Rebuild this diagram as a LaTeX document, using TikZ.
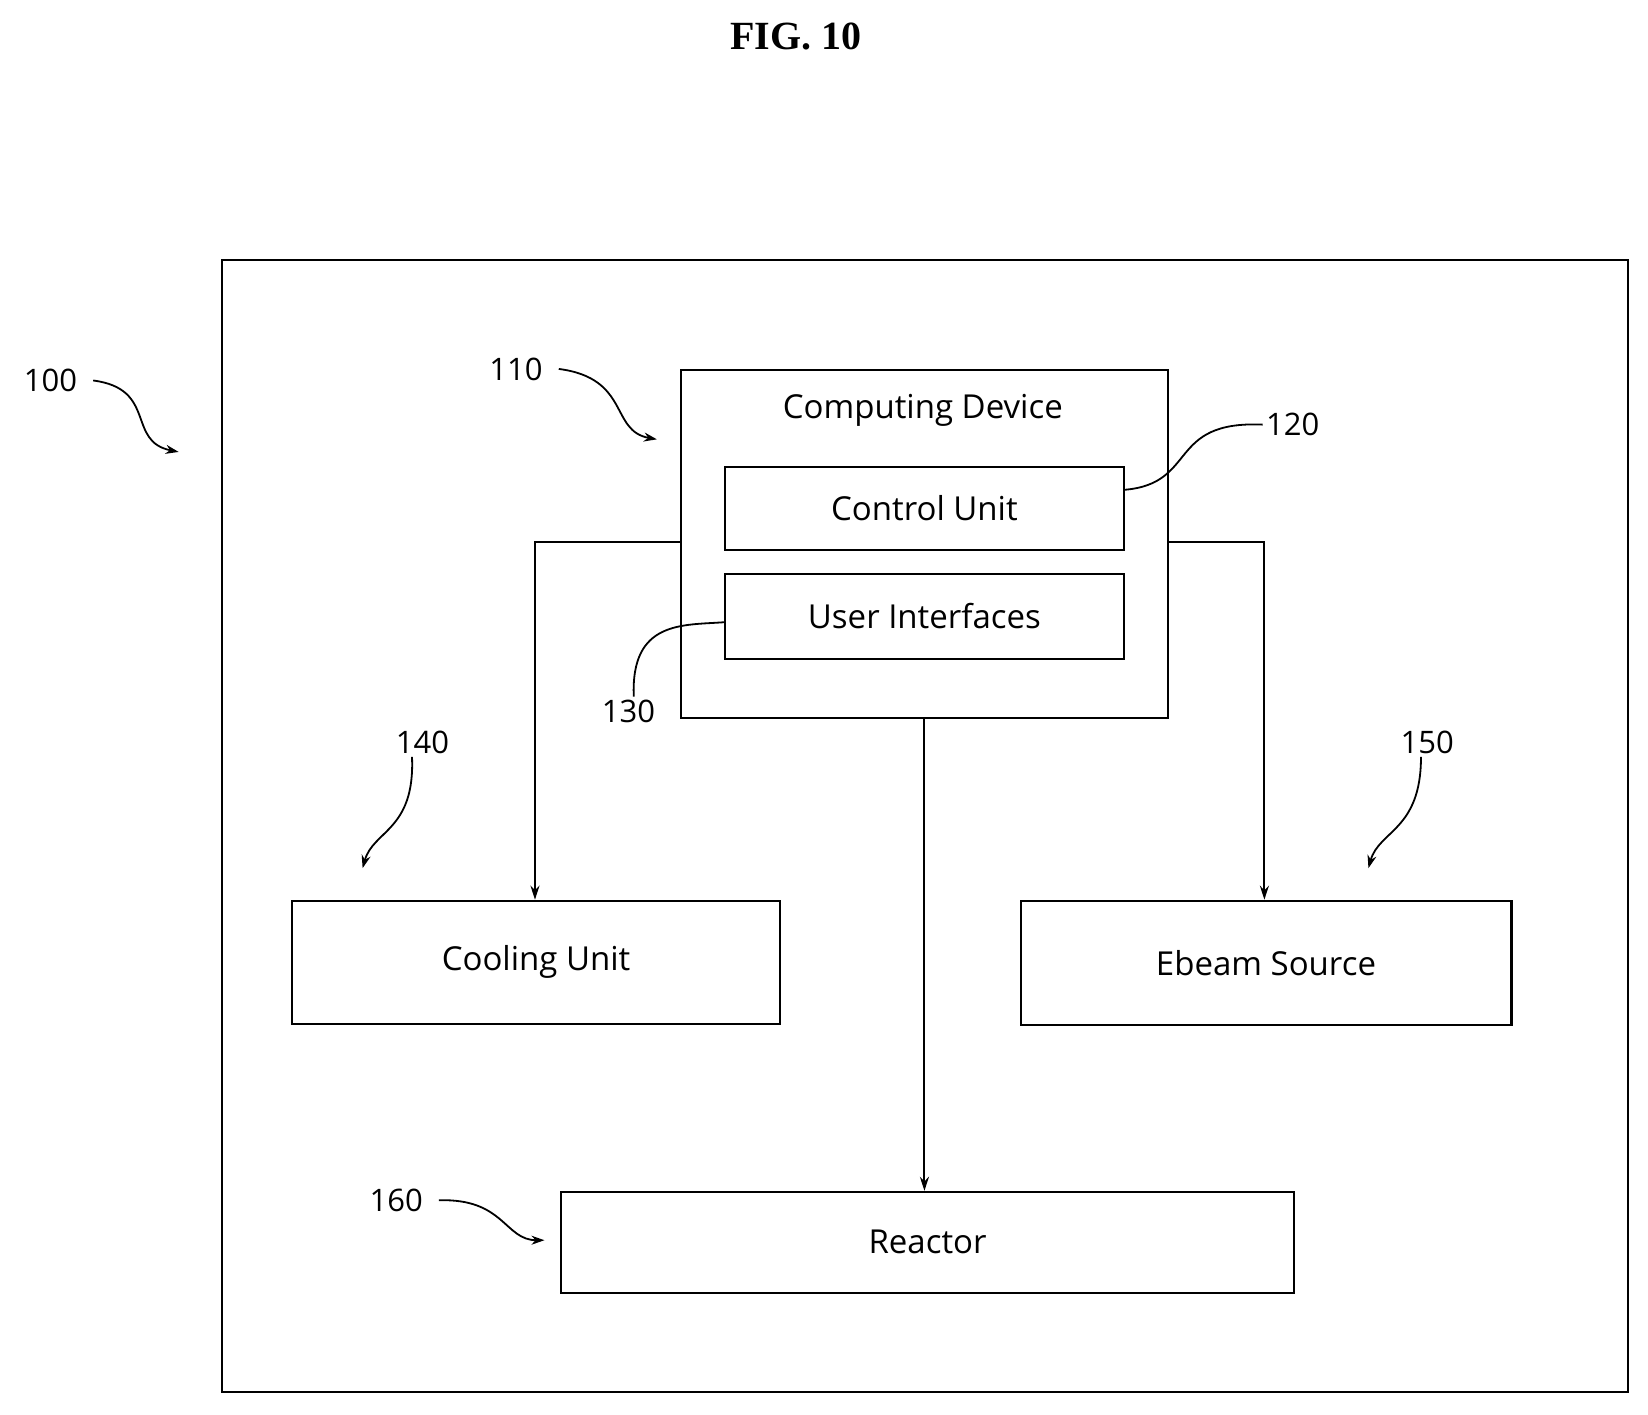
\documentclass[tikz,border=0pt]{standalone}
\usepackage{fontspec}
\setmainfont{Open Sans}
\newfontfamily\figfont{Liberation Serif}
\usetikzlibrary{arrows.meta}
\newlength{\du}
\setlength{\du}{1.051pt}
\tikzset{
  blk/.style={draw, line width=2.2pt, inner sep=0pt, anchor=north west},
  txt/.style={font=\fontsize{33}{37}\selectfont},
  ref/.style={font=\fontsize{31}{35}\selectfont},
  flow/.style={line width=2pt, -{Stealth[length=14pt,width=9pt]}},
  lead/.style={line width=1.8pt, -{Stealth[length=13pt,width=9pt]}},
}
\begin{document}
\begin{tikzpicture}
\useasboundingbox (0,0) rectangle (1568\du,-1345.4\du);
\node[font=\figfont\bfseries\fontsize{40}{44}\selectfont] (fig) at (757\du,-35\du) {FIG. 10};
\node[blk, minimum width=1338\du, minimum height=1077\du] (sys) at (210\du,-246\du) {};
\node[blk, minimum width=463\du, minimum height=331\du] (comp) at (647\du,-351\du) {};
\node[txt] (comptxt) at (878\du,-390\du) {Computing Device};
\node[blk, minimum width=379\du, minimum height=79\du] (ctrl) at (689\du,-443\du) {};
\node[txt] at (ctrl.center) {Control Unit};
\node[blk, minimum width=379\du, minimum height=81\du] (ui) at (689\du,-545\du) {};
\node[txt] at (ui.center) {User Interfaces};
\node[blk, minimum width=464\du, minimum height=117\du] (cool) at (277\du,-856\du) {};
\node[txt] at (cool.center) {Cooling Unit};
\node[blk, minimum width=467\du, minimum height=118\du] (ebeam) at (970\du,-856\du) {};
\node[txt] at (ebeam.center) {Ebeam Source};
\node[blk, minimum width=697\du, minimum height=96\du] (reac) at (533\du,-1133\du) {};
\node[txt] at (reac.center) {Reactor};
% connectors
\draw[flow] (comp.west |- 0,-516\du) -| (cool.north -| 509\du,0);
\draw[flow] (comp.east |- 0,-516\du) -| (ebeam.north -| 1203\du,0);
\draw[flow] (comp.south) -- (reac.north -| comp.south);
% reference numerals
\node[ref] (n100) at (48\du,-362\du) {100};
\node[ref] (n110) at (491\du,-351\du) {110};
\node[ref] (n120) at (1230\du,-404\du) {120};
\node[ref] (n130) at (598\du,-677\du) {130};
\node[ref] (n140) at (402\du,-706\du) {140};
\node[ref] (n150) at (1358\du,-706\du) {150};
\node[ref] (n160) at (377\du,-1142\du) {160};
\coordinate (p100) at (170\du,-430\du);
\coordinate (p110) at (625\du,-418\du);
\coordinate (p140) at (345\du,-826\du);
\coordinate (p150) at (1302\du,-826\du);
\coordinate (p160) at (518\du,-1180\du);
\draw[lead] (n100.east)++(12\du,0) .. controls (150\du,-370\du) and (120\du,-420\du) .. (p100);
\draw[lead] (n110.east)++(12\du,0) .. controls (600\du,-360\du) and (580\du,-410\du) .. (p110);
\draw[line width=1.8pt] (n120.west) .. controls (1110\du,-400\du) and (1140\du,-460\du) .. (ctrl.east |- 0,-466\du);
\draw[line width=1.8pt] (n130.north)++(5\du,0) .. controls (600\du,-590\du) and (650\du,-595\du) .. (ui.west |- 0,-592\du);
\draw[lead] (n140.south)++(-10\du,0) .. controls (395\du,-790\du) and (355\du,-790\du) .. (p140);
\draw[lead] (n150.south)++(-6\du,0) .. controls (1352\du,-790\du) and (1312\du,-790\du) .. (p150);
\draw[lead] (n160.east)++(12\du,0) .. controls (480\du,-1140\du) and (480\du,-1180\du) .. (p160);
\end{tikzpicture}
\end{document}
